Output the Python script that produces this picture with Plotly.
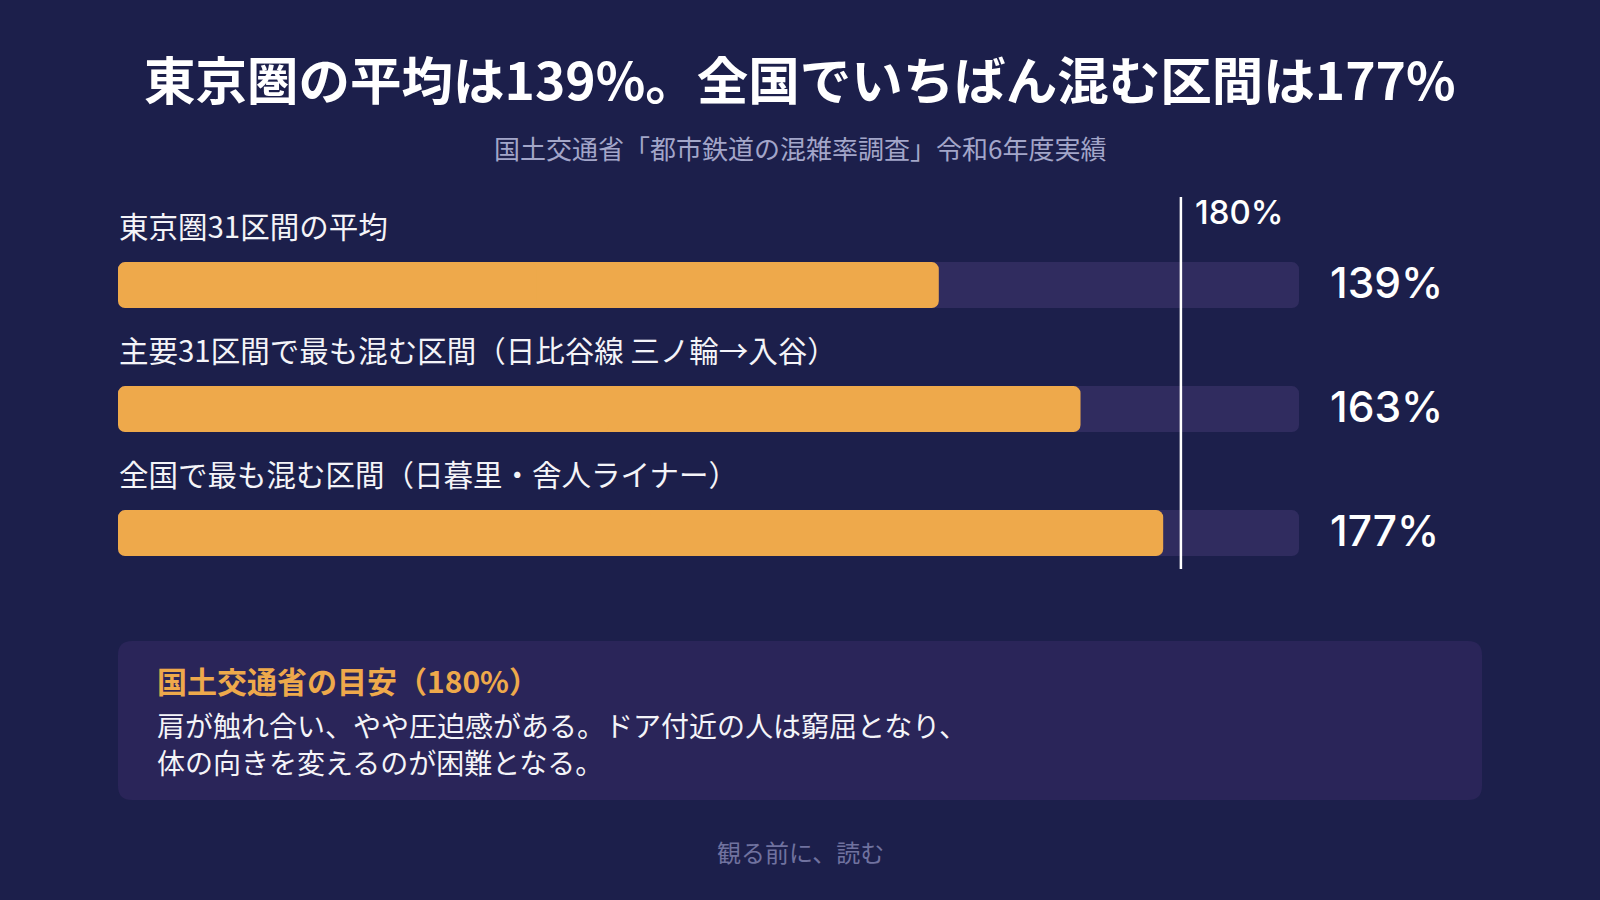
import plotly.graph_objects as go

# ---- data ----
categories = [
    "東京圏31区間の平均",
    "主要31区間で最も混む区間（日比谷線 三ノ輪→入谷）",
    "全国で最も混む区間（日暮里・舎人ライナー）",
]
values = [139, 163, 177]
value_labels = ["139%", "163%", "177%"]
track_max = 200
guide_value = 180
guide_label = "180%"

title_text = "東京圏の平均は139%。全国でいちばん混む区間は177%"
subtitle_text = "国土交通省「都市鉄道の混雑率調査」令和6年度実績"
box_title = "国土交通省の目安（180%）"
box_lines = [
    "肩が触れ合い、やや圧迫感がある。ドア付近の人は窮屈となり、",
    "体の向きを変えるのが困難となる。",
]
footer_text = "観る前に、読む"

# ---- style ----
W, H = 1600, 900
BG = "#1c1f4b"
ORANGE = "#eea94b"
TRACK = "#302c5f"
BOX = "#2a2559"
JP = "Noto Sans CJK JP"
NUM = "Inter, Noto Sans CJK JP"

def px(x):
    return x / W

def py(y):
    return 1 - y / H

plot_left, plot_right = 118, 1299
plot_top, plot_bottom = 197, 569

ypos = list(range(len(categories)))
BW = 0.37

fig = go.Figure()

def add_rounded_bar(vals, color):
    # two halves so both ends get the rounded corner (corner radius applies to bar tips)
    half = [v / 2 for v in vals]
    fig.add_trace(go.Bar(
        y=ypos, x=[v - h * 0.98 for v, h in zip(vals, half)], base=[h * 0.98 for h in half],
        orientation="h", marker=dict(color=color, line=dict(width=0)), width=BW,
        hoverinfo="skip", showlegend=False,
    ))
    fig.add_trace(go.Bar(
        y=ypos, x=[-h * 1.02 for h in half], base=[h * 1.02 for h in half],
        orientation="h", marker=dict(color=color, line=dict(width=0)), width=BW,
        hoverinfo="skip", showlegend=False,
    ))

add_rounded_bar([track_max] * len(values), TRACK)
add_rounded_bar(values, ORANGE)

annotations = []
for i, (cat, vl) in enumerate(zip(categories, value_labels)):
    annotations.append(dict(
        x=px(plot_left - 1), y=i - 0.485, xref="paper", yref="y", text=cat, showarrow=False,
        xanchor="left", yanchor="middle",
        font=dict(family=JP, size=29.5, color="#f4f4f8"),
    ))
    annotations.append(dict(
        x=px(1328), y=i - 0.02, xref="paper", yref="y", text=vl, showarrow=False,
        xanchor="left", yanchor="middle",
        font=dict(family=NUM, size=42.5, color="#ffffff", weight=500),
    ))
annotations.append(dict(
    x=px(1193), y=-0.59, xref="paper", yref="y", text=guide_label,
    showarrow=False, xanchor="left", yanchor="middle",
    font=dict(family=NUM, size=33, color="#ffffff", weight=500),
))
annotations.append(dict(
    x=0.5, y=py(77), xref="paper", yref="paper", text=title_text,
    showarrow=False, xanchor="center", yanchor="middle",
    font=dict(family=JP, size=51.5, color="#ffffff", weight=700),
))
annotations.append(dict(
    x=0.5, y=py(148), xref="paper", yref="paper", text=subtitle_text,
    showarrow=False, xanchor="center", yanchor="middle",
    font=dict(family=JP, size=26, color="#a3a6c9"),
))
annotations.append(dict(
    x=px(155), y=py(680), xref="paper", yref="paper", text=box_title,
    showarrow=False, xanchor="left", yanchor="middle",
    font=dict(family=JP, size=30, color=ORANGE, weight=700),
))
for j, line in enumerate(box_lines):
    annotations.append(dict(
        x=px(155), y=py(725 + 37 * j), xref="paper", yref="paper", text=line,
        showarrow=False, xanchor="left", yanchor="middle",
        font=dict(family=JP, size=28, color="#f4f4f8"),
    ))
annotations.append(dict(
    x=0.5, y=py(851), xref="paper", yref="paper", text=footer_text,
    showarrow=False, xanchor="center", yanchor="middle",
    font=dict(family=JP, size=24, color="#70729f"),
))

bx0, bx1, by0, by1, r = 118, 1482, 641, 800, 14
def rpath(x0, x1, y0, y1, r):
    pts = [
        f"M {px(x0 + r)},{py(y0)}",
        f"L {px(x1 - r)},{py(y0)}",
        f"Q {px(x1)},{py(y0)} {px(x1)},{py(y0 + r)}",
        f"L {px(x1)},{py(y1 - r)}",
        f"Q {px(x1)},{py(y1)} {px(x1 - r)},{py(y1)}",
        f"L {px(x0 + r)},{py(y1)}",
        f"Q {px(x0)},{py(y1)} {px(x0)},{py(y1 - r)}",
        f"L {px(x0)},{py(y0 + r)}",
        f"Q {px(x0)},{py(y0)} {px(x0 + r)},{py(y0)}",
        "Z",
    ]
    return " ".join(pts)

shapes = [
    dict(type="path", path=rpath(bx0, bx1, by0, by1, r), xref="paper", yref="paper",
         fillcolor=BOX, line=dict(width=0), layer="below"),
    dict(type="line", x0=guide_value, x1=guide_value, xref="x",
         y0=-0.71, y1=2.29, yref="y", line=dict(color="#ffffff", width=2.5),
         layer="above"),
]

fig.update_layout(
    width=W, height=H,
    margin=dict(l=0, r=0, t=0, b=0),
    paper_bgcolor=BG, plot_bgcolor=BG,
    barmode="overlay", barcornerradius=7,
    xaxis=dict(domain=[plot_left / W, plot_right / W], range=[0, track_max],
               visible=False, fixedrange=True),
    yaxis=dict(domain=[1 - plot_bottom / H, 1 - plot_top / H], range=[2.29, -0.71],
               visible=False, fixedrange=True),
    annotations=annotations, shapes=shapes,
    showlegend=False,
)

fig.write_html("out.html", config={"displayModeBar": False},
               post_script="document.body.style.margin='0';document.body.style.overflow='hidden';")
